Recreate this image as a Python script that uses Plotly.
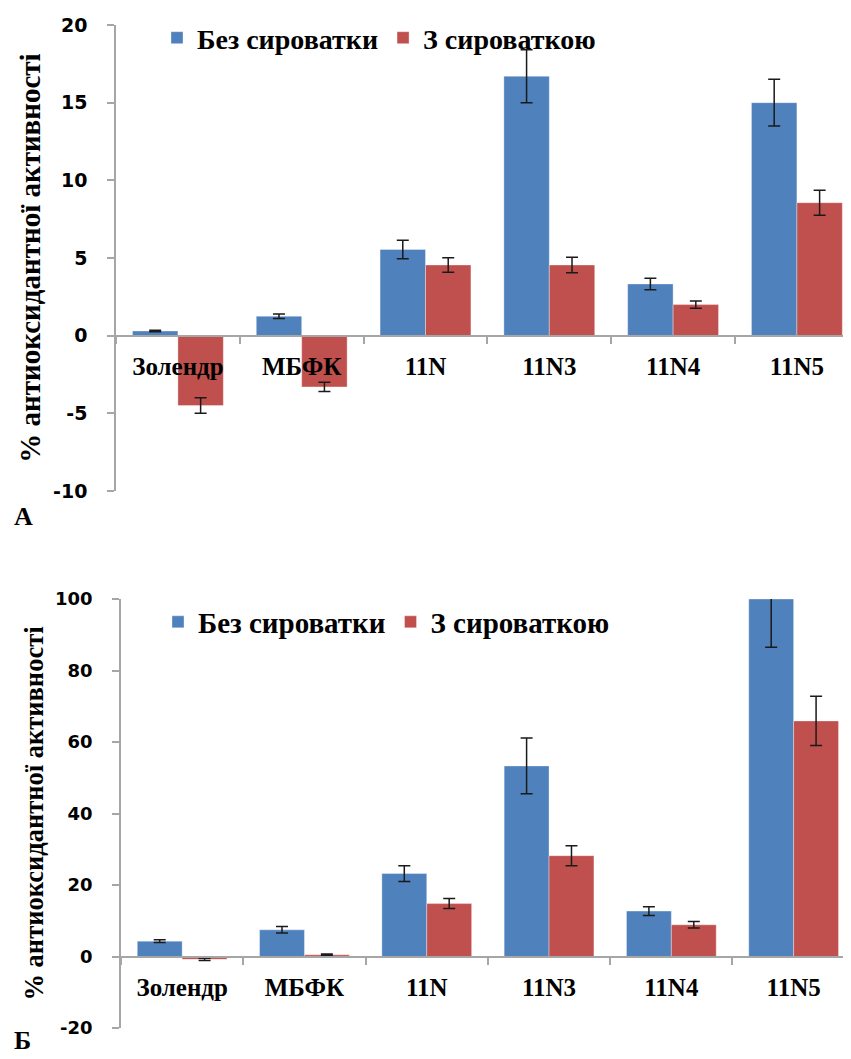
import plotly.graph_objects as go

# ---------------- data ----------------
categories = ["Золендр", "МБФК", "11N", "11N3", "11N4", "11N5"]
series_names = ["Без сироватки", "З сироваткою"]

# Panel A
a_without = [0.3, 1.25, 5.55, 16.7, 3.33, 15.0]
a_without_err = [0.05, 0.14, 0.6, 1.7, 0.37, 1.5]
a_with = [-4.5, -3.3, 4.55, 4.55, 2.0, 8.56]
a_with_err = [0.5, 0.3, 0.47, 0.5, 0.23, 0.8]
a_ticks = [-10, -5, 0, 5, 10, 15, 20]
a_ticktext = ["-10", "-5", "0", "5", "10", "15", "20"]

# Panel Б
b_without = [4.3, 7.46, 23.2, 53.3, 12.7, 100.0]
b_without_err = [0.4, 0.9, 2.2, 7.8, 1.2, 13.5]
b_with = [-0.8, 0.47, 14.8, 28.2, 8.87, 65.9]
b_with_err = [0.3, 0.2, 1.4, 2.8, 0.9, 6.9]
b_ticks = [-20, 0, 20, 40, 60, 80, 100]
b_ticktext = ["-20", "0", "20", "40", "60", "80", "100"]

y_title = "% антиоксидантної активності"
panel_labels = ["А", "Б"]

# ---------------- style ----------------
PAGE_W, PAGE_H = 851, 1059
OFF = 8                      # default page margin around the plot div
W, H = PAGE_W - OFF, PAGE_H - OFF
BLUE = "#4F81BD"
RED = "#C0504D"
AXIS = "#A6A6A6"
SERIF = "Liberation Serif, Times New Roman, serif"
SANS = "DejaVu Sans, Verdana, sans-serif"

def px_x(p):
    return (p - OFF) / W

def px_y(p):
    return 1 - (p - OFF) / H

panels = [
    dict(vals=(a_without, a_with), errs=(a_without_err, a_with_err),
         ticks=a_ticks, ticktext=a_ticktext, yr=[-10, 20],
         xdom=[px_x(116), 1], ydom=[px_y(491), px_y(25)], xr=[-0.5, 5.437],
         tickfont=19, titlefont=29, legend="legend", label=panel_labels[0],
         label_y=516),
    dict(vals=(b_without, b_with), errs=(b_without_err, b_with_err),
         ticks=b_ticks, ticktext=b_ticktext, yr=[-20, 100],
         xdom=[px_x(121), 1], ydom=[px_y(1028), px_y(599)], xr=[-0.5, 5.469],
         tickfont=18, titlefont=26.5, legend="legend2", label=panel_labels[1],
         label_y=1040),
]

fig = go.Figure()
layout = {}
annotations = []

for i, p in enumerate(panels, start=1):
    xa = "x" if i == 1 else f"x{i}"
    ya = "y" if i == 1 else f"y{i}"
    for name, vals, errs, col in zip(series_names, p["vals"], p["errs"], (BLUE, RED)):
        fig.add_trace(go.Bar(
            x=categories, y=vals, name=name, xaxis=xa, yaxis=ya,
            marker=dict(color=col, line=dict(color="rgba(255,255,255,0.35)", width=1)),
            error_y=dict(type="data", array=errs, visible=True,
                         color="#1a1a1a", thickness=1.5, width=6),
            legend=p["legend"], showlegend=True,
        ))
    y0, y1 = p["yr"]
    d0, d1 = p["ydom"]
    zero_pos = d0 + (0 - y0) / (y1 - y0) * (d1 - d0)
    layout[f"xaxis{'' if i == 1 else i}"] = dict(
        domain=p["xdom"], range=p["xr"], anchor="free", position=zero_pos,
        showline=True, linecolor=AXIS, linewidth=1.5,
        ticks="outside", ticklen=8, tickcolor=AXIS, tickwidth=1.5,
        tickson="boundaries", showgrid=False, zeroline=False,
        tickfont=dict(family=SERIF, size=25, color="black", weight="bold"),
        ticklabelstandoff=9, fixedrange=True, automargin=False,
    )
    layout[f"yaxis{'' if i == 1 else i}"] = dict(
        domain=p["ydom"], range=p["yr"], anchor=xa,
        tickvals=p["ticks"], ticktext=p["ticktext"],
        showline=True, linecolor=AXIS, linewidth=1.5,
        ticks="outside", ticklen=7, tickcolor=AXIS, tickwidth=1.5,
        showgrid=False, zeroline=False, automargin=False,
        tickfont=dict(family=SANS, size=p["tickfont"], color="black", weight="bold"),
        ticklabelstandoff=16,
        title=dict(text=y_title,
                   font=dict(family=SERIF, size=p["titlefont"], color="black", weight="bold"),
                   standoff=4),
    )
    annotations.append(dict(
        text=p["label"], xref="paper", yref="paper", x=px_x(12), y=px_y(p["label_y"]),
        xanchor="left", yanchor="middle", showarrow=False,
        font=dict(family=SERIF, size=26, color="black", weight="bold"),
    ))

legend_common = dict(
    orientation="h", xanchor="left", yanchor="middle",
    bgcolor="rgba(0,0,0,0)", itemclick=False, itemdoubleclick=False,
    traceorder="normal",
)

fig.update_layout(
    width=W, height=H,
    margin=dict(l=0, r=0, t=0, b=0, autoexpand=False),
    paper_bgcolor="white", plot_bgcolor="white",
    barmode="group", bargap=0.266, bargroupgap=0,
    showlegend=True,
    legend=dict(x=px_x(157), y=px_y(38),
                font=dict(family=SERIF, size=28, color="black", weight="bold"),
                **legend_common),
    legend2=dict(x=px_x(158), y=px_y(622),
                 font=dict(family=SERIF, size=29, color="black", weight="bold"),
                 **legend_common),
    annotations=annotations,
    **layout,
)

fig.write_html("out.html")
